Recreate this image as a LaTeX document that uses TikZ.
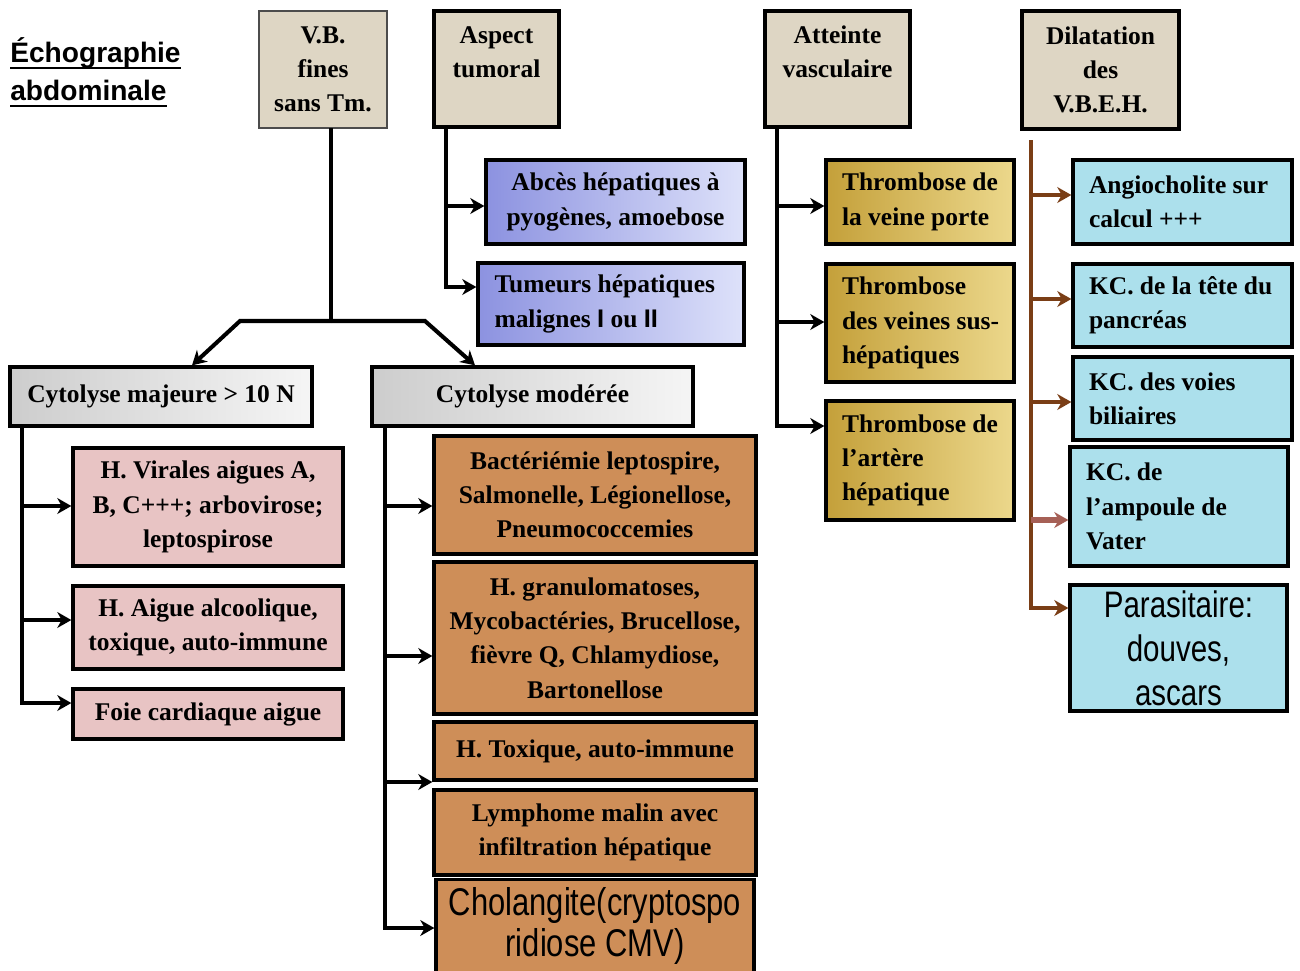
\documentclass[tikz,border=0pt]{standalone}
\usepackage{fontspec}
\setmainfont{Liberation Serif}
\setsansfont{Liberation Sans}
\newfontfamily\narrowsf[FakeStretch=0.8]{Liberation Sans}
\usetikzlibrary{arrows.meta}
\newcommand\ulword[1]{\setbox0\hbox{#1}\rlap{\rule[-4pt]{\wd0}{1.3pt}}\box0}
\newcommand\lbox[2]{\hspace*{0.24cm}\parbox{#1}{\raggedright #2}}

\definecolor{tanfill}{RGB}{222,214,196}
\definecolor{marbleA}{RGB}{205,205,205}
\definecolor{marbleB}{RGB}{245,245,245}
\definecolor{pinkfill}{RGB}{232,196,196}
\definecolor{woodfill}{RGB}{206,142,88}
\definecolor{goldA}{RGB}{196,160,58}
\definecolor{goldB}{RGB}{236,216,140}
\definecolor{blueA}{RGB}{140,146,224}
\definecolor{blueB}{RGB}{222,226,250}
\definecolor{aquafill}{RGB}{172,224,236}
\definecolor{brownline}{RGB}{122,62,22}
\definecolor{mauveline}{RGB}{166,96,86}

\tikzset{
  box/.style={draw=black, line width=1.9pt, inner sep=0pt, align=center,
    font=\bfseries\fontsize{14.5}{19.5}\selectfont},
  headbox/.style={box, fill=tanfill},
  marblebox/.style={box, left color=marbleA, right color=marbleB},
  pinkbox/.style={box, fill=pinkfill},
  woodbox/.style={box, fill=woodfill},
  goldbox/.style={box, left color=goldA, right color=goldB},
  bluebox/.style={box, left color=blueA, right color=blueB},
  aquabox/.style={box, fill=aquafill},
  link/.style={line width=2.3pt},
  arr/.style={link, -{Stealth[length=8pt,width=9pt,inset=2.5pt]}},
}

\begin{document}
\begin{tikzpicture}[x=0.02cm, y=-0.02cm]
    \useasboundingbox (0,0) rectangle (1300,970);

    \node[font=\sffamily\bfseries\fontsize{16}{21.5}\selectfont, align=left, anchor=north west, inner sep=0pt] (title) at (10,37) {\ulword{Échographie}\\\ulword{abdominale}};

    % heads
    \node[headbox, draw=black!70, line width=0.8pt, minimum width=2.56cm, minimum height=2.34cm] (VB) at (323,69.5) {V.B.\\fines\\sans Tm.};
    \node[headbox, minimum width=2.5cm, minimum height=2.32cm] (Asp) at (496.5,69) {Aspect\\tumoral\\\mbox{}};
    \node[headbox, minimum width=2.9cm, minimum height=2.32cm] (Att) at (837.5,69) {Atteinte\\vasculaire\\\mbox{}};
    \node[headbox, minimum width=3.14cm, minimum height=2.36cm] (Dil) at (1100.5,70) {Dilatation\\des\\V.B.E.H.};

    % tumoral
    \node[bluebox, minimum width=5.18cm, minimum height=1.68cm] (Abc) at (615.5,202) {Abcès hépatiques à\\pyogènes, amoebose};
    \node[bluebox, minimum width=5.32cm, minimum height=1.64cm] (Tum) at (611,304) {\lbox{4.9cm}{Tumeurs hépatiques\\malignes {\sffamily I} ou {\sffamily II}}};

    % cytolyse
    \node[marblebox, minimum width=6.04cm, minimum height=1.18cm] (CyM) at (161,396.5) {Cytolyse majeure > 10 N};
    \node[marblebox, minimum width=6.42cm, minimum height=1.18cm] (CyD) at (532.5,396.5) {Cytolyse modérée};

    \node[pinkbox, minimum width=5.4cm, minimum height=2.36cm] (HV) at (208,507) {H. Virales aigues A,\\B, C+++; arbovirose;\\leptospirose};
    \node[pinkbox, minimum width=5.4cm, minimum height=1.66cm] (HA) at (208,627.5) {H. Aigue alcoolique,\\toxique, auto-immune};
    \node[pinkbox, minimum width=5.4cm, minimum height=1.0cm] (FC) at (208,714) {Foie cardiaque aigue};

    \node[woodbox, minimum width=6.44cm, minimum height=2.36cm] (Bac) at (595,495) {Bactériémie leptospire,\\Salmonelle, Légionellose,\\Pneumococcemies};
    \node[woodbox, minimum width=6.44cm, minimum height=3.04cm] (Gra) at (595,638) {H. granulomatoses,\\Mycobactéries, Brucellose,\\fièvre Q, Chlamydiose,\\Bartonellose};
    \node[woodbox, minimum width=6.44cm, minimum height=1.16cm] (Tox) at (595,751) {H. Toxique, auto-immune};
    \node[woodbox, minimum width=6.44cm, minimum height=1.7cm] (Lym) at (595,832.5) {Lymphome malin avec\\infiltration hépatique};
    \node[woodbox, font=\narrowsf\fontsize{22}{23.8}\selectfont, minimum width=6.36cm, minimum height=1.86cm] (Cho) at (595,926) {Cholangite(cryptospo\\ridiose CMV)};

    % vasculaire
    \node[goldbox, minimum width=3.76cm, minimum height=1.68cm] (TVP) at (920,202) {\lbox{3.36cm}{Thrombose de\\la veine porte}};
    \node[goldbox, minimum width=3.76cm, minimum height=2.36cm] (TVS) at (920,323) {\lbox{3.36cm}{Thrombose\\des veines sus-\\hépatiques}};
    \node[goldbox, minimum width=3.76cm, minimum height=2.38cm] (TA) at (920,460.5) {\lbox{3.36cm}{Thrombose de\\l’artère\\hépatique}};

    % V.B.E.H.
    \node[aquabox, minimum width=4.38cm, minimum height=1.68cm] (Ang) at (1182.5,202) {\lbox{3.98cm}{Angiocholite sur\\calcul +++}};
    \node[aquabox, minimum width=4.38cm, minimum height=1.66cm] (KCT) at (1182.5,305.5) {\lbox{3.98cm}{KC. de la tête du\\pancréas}};
    \node[aquabox, minimum width=4.38cm, minimum height=1.66cm] (KCV) at (1182.5,398.5) {\lbox{3.98cm}{KC. des voies\\biliaires}};
    \node[aquabox, minimum width=4.36cm, minimum height=2.38cm] (KCA) at (1179,506.5) {\lbox{3.96cm}{KC. de\\l’ampoule de\\Vater}};
    \node[aquabox, font=\narrowsf\fontsize{21}{25}\selectfont, minimum width=4.34cm, minimum height=2.52cm] (Par) at (1178.5,648) {Parasitaire:\\douves,\\ascars};

    % V.B. fines
    \coordinate (v0) at (331,128);
    \coordinate (v1) at (331,321);
    \coordinate (vL) at (240,321);
    \coordinate (vR) at (425,321);
    \draw[link] (v0) -- (v1);
    \draw[arr] (v1) -- (vL) -- ([xshift=0.62cm]CyM.north);
    \draw[arr] (v1) -- (vR) -- ([xshift=-1.15cm]CyD.north);

    % aspect tumoral
    \coordinate (a0) at (446,127);
    \coordinate (a1) at (446,206);
    \coordinate (a2) at (446,287);
    \draw[arr] (a0) |- (a2 -| Tum.west);
    \draw[arr] (a1) -- (a1 -| Abc.west);

    % cytolyse majeure
    \coordinate (m0) at (22,426);
    \coordinate (m1) at (22,506);
    \coordinate (m2) at (22,620);
    \coordinate (m3) at (22,703);
    \draw[arr] (m0) |- (m3 -| FC.west);
    \draw[arr] (m1) -- (m1 -| HV.west);
    \draw[arr] (m2) -- (m2 -| HA.west);

    % cytolyse moderee
    \coordinate (d0) at (385,426);
    \coordinate (d1) at (385,506);
    \coordinate (d2) at (385,656);
    \coordinate (d3) at (385,782);
    \coordinate (d4) at (385,928);
    \draw[arr] (d0) |- (d4 -| Cho.west);
    \draw[arr] (d1) -- (d1 -| Bac.west);
    \draw[arr] (d2) -- (d2 -| Gra.west);
    \draw[arr] (d3) -- (d3 -| Tox.west);

    % atteinte vasculaire
    \coordinate (t0) at (777,127);
    \coordinate (t1) at (777,206);
    \coordinate (t2) at (777,322);
    \coordinate (t3) at (777,426);
    \draw[arr] (t0) |- (t3 -| TA.west);
    \draw[arr] (t1) -- (t1 -| TVP.west);
    \draw[arr] (t2) -- (t2 -| TVS.west);

    % dilatation
    \coordinate (k0) at (1031,140);
    \coordinate (k1) at (1031,195);
    \coordinate (k2) at (1031,299);
    \coordinate (k3) at (1031,402);
    \coordinate (k4) at (1031,520);
    \coordinate (k5) at (1031,608);
    \draw[arr, brownline, line width=2pt] (k0) |- (k5 -| Par.west);
    \draw[arr, brownline, line width=2pt] (k1) -- (k1 -| Ang.west);
    \draw[arr, brownline, line width=2pt] (k2) -- (k2 -| KCT.west);
    \draw[arr, brownline, line width=2pt] (k3) -- (k3 -| KCV.west);
    \draw[arr, mauveline, line width=3pt] (k4) -- (k4 -| KCA.west);
\end{tikzpicture}
\end{document}
